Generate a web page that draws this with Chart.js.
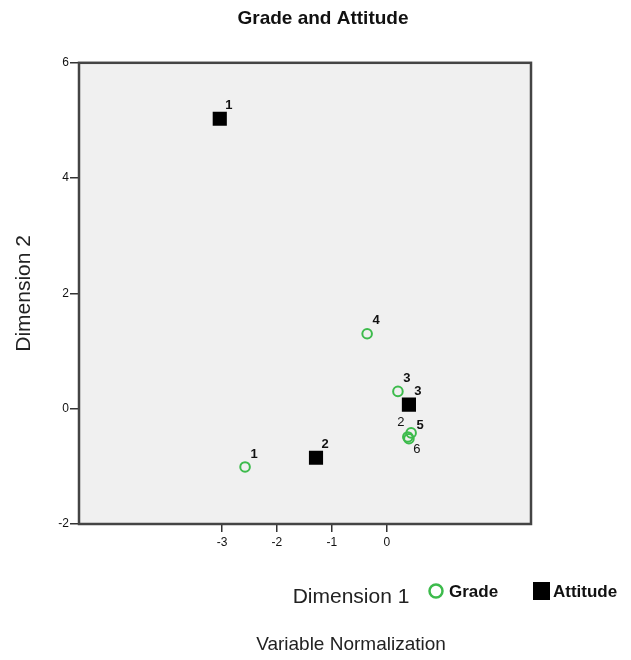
<!DOCTYPE html>
<html><head><meta charset="utf-8">
<script src="https://cdn.jsdelivr.net/npm/chart.js@4/dist/chart.umd.min.js"></script>
<style>html,body{margin:0;padding:0;background:#fff}#wrap{width:631px;height:660px;position:relative}</style>
</head><body><div id="wrap"><canvas id="c" width="631" height="660"></canvas></div>
<script>
// ---- data ----
const chartTitle = 'Grade and Attitude';
const xAxisTitle = 'Dimension 1';
const yAxisTitle = 'Dimension 2';
const footerText = 'Variable Normalization';
const seriesNames = ['Grade', 'Attitude'];
const gradeCategories = ['1', '2', '3', '4', '5', '6'];
const gradeDim1 = [-2.58, 0.38, 0.20, -0.36, 0.44, 0.40];
const gradeDim2 = [-1.01, -0.49, 0.30, 1.30, -0.42, -0.52];
const attitudeCategories = ['1', '2', '3'];
const attitudeDim1 = [-3.04, -1.29, 0.40];
const attitudeDim2 = [5.03, -0.85, 0.07];
const xTickValues = [-3, -2, -1, 0];
const yTickValues = [-2, 0, 2, 4, 6];

// ---- styling ----
const FONT = '"Liberation Sans", Arial, sans-serif';
const GREEN = '#3dbb4c';
// label placement tweaks (style only): [dx, dy, weight]
const labelStyle = {
  'Grade:2': [-7, -15, 'normal'],
  'Grade:6': [8, 11, 'normal'],
  'Grade:5': [9, -7, 'bold']
};

const toPoints = (xs, ys) => xs.map((x, i) => ({x: x, y: ys[i]}));

const plotBg = {
  id: 'plotBg',
  beforeDraw(chart) {
    const {ctx, chartArea: a} = chart;
    ctx.save();
    ctx.fillStyle = '#f0f0f0';
    ctx.fillRect(a.left, a.top, a.right - a.left, a.bottom - a.top);
    ctx.restore();
  },
  beforeDatasetsDraw(chart) {
    const {ctx, chartArea: a} = chart;
    ctx.save();
    ctx.strokeStyle = '#444';
    ctx.lineWidth = 2.5;
    ctx.strokeRect(a.left, a.top, a.right - a.left, a.bottom - a.top);
    ctx.restore();
  }
};

const pointLabels = {
  id: 'pointLabels',
  afterDatasetsDraw(chart) {
    const ctx = chart.ctx;
    ctx.save();
    ctx.fillStyle = '#111';
    ctx.textAlign = 'center';
    ctx.textBaseline = 'middle';
    chart.data.datasets.forEach((ds, di) => {
      const meta = chart.getDatasetMeta(di);
      meta.data.forEach((el, i) => {
        const name = ds.categories[i];
        const st = labelStyle[ds.label + ':' + name] || [9, -13, 'bold'];
        ctx.font = st[2] + ' 13px ' + FONT;
        ctx.fillText(name, el.x + st[0], el.y + st[1]);
      });
    });
    ctx.restore();
  }
};

const footer = {
  id: 'footer',
  afterDraw(chart) {
    const ctx = chart.ctx;
    ctx.save();
    ctx.textBaseline = 'middle';
    ctx.fillStyle = '#222';
    ctx.textAlign = 'center';
    ctx.font = '21px ' + FONT;
    ctx.fillText(xAxisTitle, 351, 597);
    ctx.font = '19px ' + FONT;
    ctx.fillText(footerText, 351, 645);
    // legend from datasets
    const ds = chart.data.datasets;
    ctx.beginPath();
    ctx.arc(436, 591, 6.5, 0, Math.PI * 2);
    ctx.strokeStyle = ds[0].borderColor;
    ctx.lineWidth = 2.5;
    ctx.stroke();
    ctx.fillStyle = '#111';
    ctx.textAlign = 'left';
    ctx.font = 'bold 17px ' + FONT;
    ctx.fillText(ds[0].label, 449, 592);
    ctx.fillStyle = ds[1].backgroundColor;
    ctx.fillRect(533, 582, 17, 18);
    ctx.fillStyle = '#111';
    ctx.fillText(ds[1].label, 553, 592);
    ctx.restore();
  }
};

new Chart(document.getElementById('c'), {
  type: 'scatter',
  data: {
    datasets: [
      {
        label: seriesNames[0],
        categories: gradeCategories,
        data: toPoints(gradeDim1, gradeDim2),
        pointStyle: 'circle',
        pointRadius: 4.8,
        pointHoverRadius: 4.8,
        borderWidth: 2,
        borderColor: GREEN,
        backgroundColor: 'rgba(0,0,0,0)'
      },
      {
        label: seriesNames[1],
        categories: attitudeCategories,
        data: toPoints(attitudeDim1, attitudeDim2),
        pointStyle: 'rect',
        pointRadius: 10,
        pointHoverRadius: 10,
        borderWidth: 0,
        borderColor: '#000',
        backgroundColor: '#000'
      }
    ]
  },
  options: {
    responsive: false,
    animation: false,
    events: [],
    layout: {padding: {left: 15, right: 0, top: 0, bottom: 0}},
    plugins: {
      legend: {display: false},
      tooltip: {enabled: false},
      title: {
        display: true,
        text: chartTitle,
        color: '#111',
        font: {family: FONT, size: 19, weight: 'bold'},
        padding: {top: 7, bottom: 33}
      }
    },
    scales: {
      x: {
        type: 'linear',
        min: -5.6,
        max: 2.62,
        afterBuildTicks: s => { s.ticks = xTickValues.map(v => ({value: v})); },
        afterFit: s => { s.height = 136; },
        grid: {display: true, drawOnChartArea: false, drawTicks: true, tickLength: 8, color: '#333', lineWidth: 1.5},
        border: {display: false},
        ticks: {color: '#111', font: {family: FONT, size: 12}, padding: 3, maxRotation: 0}
      },
      y: {
        type: 'linear',
        min: -2,
        max: 6,
        afterBuildTicks: s => { s.ticks = yTickValues.map(v => ({value: v})); },
        afterFit: s => { s.width = 64; },
        grid: {display: true, drawOnChartArea: false, drawTicks: true, tickLength: 9, color: '#333', lineWidth: 1.5},
        border: {display: false},
        ticks: {color: '#111', font: {family: FONT, size: 12}, padding: 1},
        title: {display: true, text: yAxisTitle, color: '#222', font: {family: FONT, size: 21}, padding: {top: -3, bottom: 0}}
      },
      yR: {
        type: 'linear',
        position: 'right',
        display: true,
        afterFit: s => { s.width = 100; },
        grid: {display: false, drawTicks: false},
        border: {display: false},
        ticks: {display: false}
      }
    }
  },
  plugins: [plotBg, pointLabels, footer]
});
</script>
</body></html>
